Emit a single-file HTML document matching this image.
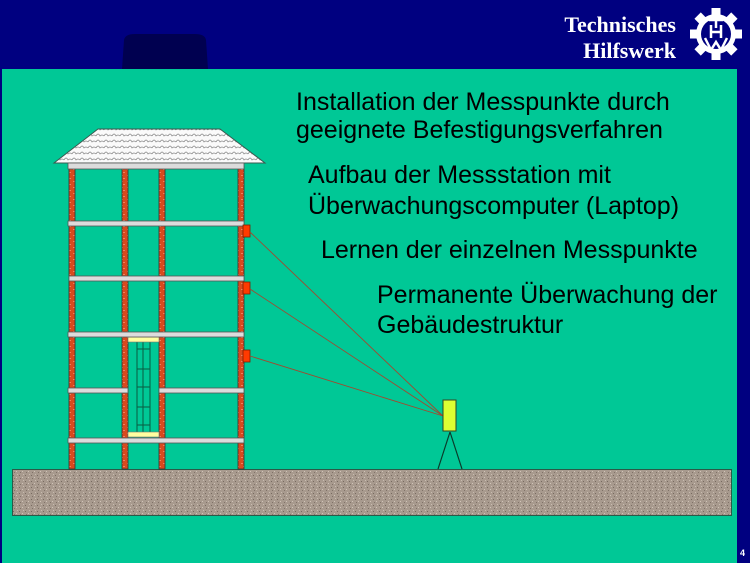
<!DOCTYPE html>
<html><head><meta charset="utf-8"><style>
html,body{margin:0;padding:0;}
body{width:750px;height:563px;background:#000080;position:relative;overflow:hidden;font-family:"Liberation Sans",Arial,sans-serif;}
.t{position:absolute;color:#000;font-size:25px;line-height:28px;white-space:nowrap;}
</style></head><body>
<svg width="750" height="563" style="position:absolute;left:0;top:0">
<defs>
<pattern id="brick" width="6" height="6" patternUnits="userSpaceOnUse">
<rect width="6" height="6" fill="#d84a1e"/>
<rect x="1" y="1" width="2" height="1" fill="#f08060"/>
<rect x="3" y="4" width="2" height="1" fill="#f08060"/>
</pattern>
<pattern id="tile" width="8" height="6" patternUnits="userSpaceOnUse">
<rect width="8" height="6" fill="#fafafa"/>
<path d="M0 4 Q2 0 4 4 Q6 2 8 4" fill="none" stroke="#888" stroke-width="0.7"/>
</pattern>
<pattern id="grav" width="6" height="6" patternUnits="userSpaceOnUse">
<rect width="6" height="6" fill="#a89a8e"/>
<rect x="1" y="1" width="1" height="1" fill="#776a60"/>
<rect x="4" y="3" width="1" height="1" fill="#d0c4b8"/>
<rect x="2" y="4" width="1" height="1" fill="#807268"/>
<rect x="5" y="0" width="1" height="1" fill="#c8bcb0"/>
</pattern>
</defs>
<path d="M122 69 L124 40 Q125 34 135 34 L195 34 Q205 34 206 40 L208 69 Z" fill="#000050"/>
<rect x="2" y="69" width="735" height="494" fill="#00c896"/>
<rect x="12.5" y="469.5" width="719" height="46" fill="url(#grav)" stroke="#2a5a48" stroke-width="1"/>
<polygon points="98,129 220,129 265,163 54,163" fill="url(#tile)" stroke="#3a5a50" stroke-width="1"/>
<g stroke="#333" stroke-width="0.8">
<rect x="69" y="166" width="6" height="303" fill="url(#brick)"/>
<rect x="122" y="166" width="6" height="303" fill="url(#brick)"/>
<rect x="159" y="166" width="6" height="303" fill="url(#brick)"/>
<rect x="238" y="166" width="6" height="303" fill="url(#brick)"/>
</g>
<g stroke="#0a5a40" stroke-width="1" fill="none">
<line x1="137" y1="342" x2="137" y2="432"/>
<line x1="143" y1="342" x2="143" y2="432"/>
<line x1="150" y1="342" x2="150" y2="432"/>
<line x1="137" y1="349" x2="150" y2="349"/>
<line x1="137" y1="369" x2="150" y2="369"/>
<line x1="137" y1="387" x2="150" y2="387"/>
<line x1="137" y1="407" x2="150" y2="407"/>
<line x1="137" y1="425" x2="150" y2="425"/>
</g>
<g fill="#ffffa0" stroke="#777" stroke-width="0.6">
<rect x="128" y="337" width="31" height="5"/>
<rect x="128" y="432" width="31" height="5"/>
</g>
<g fill="#dcdcdc" stroke="#555" stroke-width="0.8">
<rect x="68" y="163" width="176" height="6"/>
<rect x="68" y="221" width="176" height="5"/>
<rect x="69" y="276" width="175" height="5"/>
<rect x="68" y="332" width="176" height="5"/>
<rect x="68" y="388" width="60" height="5"/>
<rect x="159" y="388" width="85" height="5"/>
<rect x="68" y="438" width="176" height="5"/>
</g>
<g fill="#ff3a00" stroke="#7a2000" stroke-width="0.8">
<rect x="243" y="225" width="7" height="12"/>
<rect x="243" y="282" width="7" height="12"/>
<rect x="243" y="350" width="7" height="12"/>
</g>
<g stroke="#a04a30" stroke-width="0.9">
<line x1="250" y1="232" x2="443" y2="416"/>
<line x1="250" y1="289" x2="443" y2="416"/>
<line x1="250" y1="356" x2="443" y2="416"/>
</g>
<rect x="443" y="400" width="13" height="31" fill="#ddff33" stroke="#334422" stroke-width="1"/>
<g stroke="#0a3a2a" stroke-width="1.2">
<line x1="450" y1="432" x2="438" y2="469"/>
<line x1="450" y1="432" x2="462" y2="469"/>
</g>
<g transform="translate(716,34)">
<g fill="#fff">
<circle r="20"/>
<rect x="-4.5" y="-26" width="9" height="8"/>
<rect x="-4.5" y="-26" width="9" height="8" transform="rotate(45)"/>
<rect x="-4.5" y="-26" width="9" height="8" transform="rotate(90)"/>
<rect x="-4.5" y="-26" width="9" height="8" transform="rotate(135)"/>
<rect x="-4.5" y="-26" width="9" height="8" transform="rotate(180)"/>
<rect x="-4.5" y="-26" width="9" height="8" transform="rotate(225)"/>
<rect x="-4.5" y="-26" width="9" height="8" transform="rotate(270)"/>
<rect x="-4.5" y="-26" width="9" height="8" transform="rotate(315)"/>
</g>
<circle r="15" fill="#000080"/>
<g stroke="#fff" stroke-width="2.5" fill="none">
<line x1="-7" y1="-14" x2="7" y2="-14"/>
<line x1="0" y1="-14" x2="0" y2="-6"/>
<line x1="-5" y1="-9" x2="-5" y2="4"/>
<line x1="5" y1="-9" x2="5" y2="4"/>
<line x1="-5" y1="-2" x2="5" y2="-2"/>
<polyline points="-11,4 -5,16 0,8 5,16 11,4"/>
</g>
</g>
<text x="676" y="32" text-anchor="end" fill="#fff" font-family="Liberation Serif,serif" font-weight="bold" font-size="22">Technisches</text>
<text x="676" y="58" text-anchor="end" fill="#fff" font-family="Liberation Serif,serif" font-weight="bold" font-size="22">Hilfswerk</text>
</svg>
<div class="t" style="left:296px;top:88px">Installation der Messpunkte durch<br>geeignete Befestigungsverfahren</div>
<div class="t" style="left:308px;top:160px;line-height:31px">Aufbau der Messstation mit<br>Überwachungscomputer (Laptop)</div>
<div class="t" style="left:321px;top:236px">Lernen der einzelnen Messpunkte</div>
<div class="t" style="left:377px;top:280px;line-height:30px">Permanente Überwachung der<br>Gebäudestruktur</div>
<div style="position:absolute;left:740px;top:548px;color:#fff;font-size:9px;font-weight:bold">4</div>
</body></html>
